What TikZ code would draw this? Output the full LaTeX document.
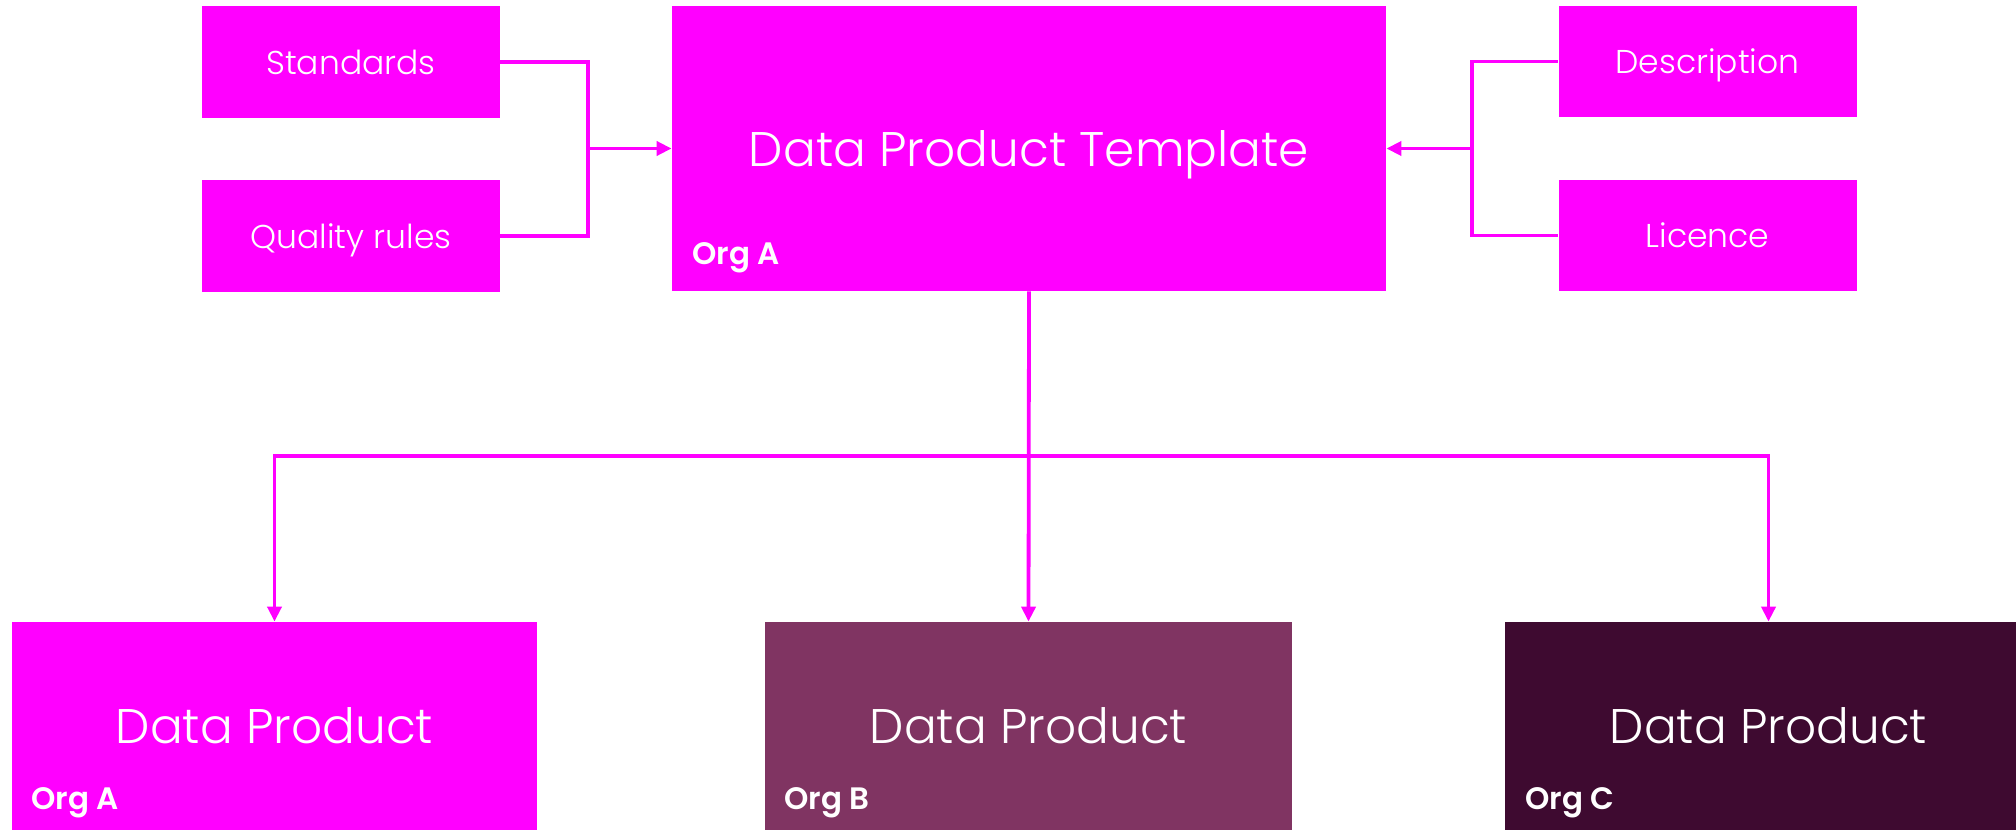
\documentclass[tikz,border=0pt]{standalone}
\usepackage{fontspec}
\newfontfamily\poplight{Poppins Light}
\newfontfamily\popsemi{Poppins SemiBold}
\usetikzlibrary{arrows.meta}
\definecolor{mag}{HTML}{FF00FF}
\definecolor{plumB}{HTML}{803462}
\definecolor{plumC}{HTML}{3E0A30}
\tikzset{
  box/.style={rectangle, inner sep=0pt, text depth=0pt, text=white, font=\poplight\fontsize{16.5pt}{18pt}\selectfont},
  smallbox/.style={box, fill=mag, minimum width=149pt, minimum height=56pt},
  bigtitle/.style={font=\poplight\fontsize{24.3pt}{28pt}\selectfont},
  orglabel/.style={anchor=base west, inner sep=0pt, text=white, font=\popsemi\fontsize{15.5pt}{18pt}\selectfont},
  conn/.style={draw=mag, line width=1.9pt},
  arr/.style={conn, -{Triangle[length=7.5pt,width=7pt]}},
}
\begin{document}
\begin{tikzpicture}[x=0.5pt,y=-0.5pt]
\useasboundingbox (0,0) rectangle (2016,830);
% top row
\node[smallbox] (std) at (351,62) {Standards};
\node[smallbox] (qr) at (351,236) {Quality rules};
\node[box, bigtitle, fill=mag, minimum width=357pt, minimum height=142.5pt] (tpl) at (1029,148.5) {Data Product Template};
\node[orglabel] (tplorg) at (692,264) {Org A};
\node[smallbox, minimum height=55.5pt] (desc) at (1707.5,61.5) {Description};
\node[smallbox, minimum height=55.5pt] (lic) at (1707.5,235.5) {Licence};
% bottom row
\node[box, bigtitle, fill=mag, minimum width=262.5pt, minimum height=104pt] (dpa) at (274.5,726) {Data Product};
\node[box, bigtitle, fill=plumB, minimum width=263.5pt, minimum height=104pt] (dpb) at (1028.5,726) {Data Product};
\node[box, bigtitle, fill=plumC, minimum width=263.5pt, minimum height=104pt] (dpc) at (1768.5,726) {Data Product};
\node[orglabel] (orga) at (31,809) {Org A};
\node[orglabel] (orgb) at (784,809) {Org B};
\node[orglabel] (orgc) at (1525,809) {Org C};
% left connectors
\coordinate (jl) at (588,148.5);
\draw[conn] (std.east) -| (jl);
\draw[conn] (qr.east) -| (jl);
\draw[arr] (jl) -- (tpl.west);
% right connectors
\coordinate (jr) at (1472,148.5);
\draw[conn] (desc.west) -| (jr);
\draw[conn] (lic.west) -| (jr);
\draw[arr] (jr) -- (tpl.east);
% bottom bus
\coordinate (bus) at (1029,456);
\draw[arr] (tpl.south) -- (dpb.north);
\draw[arr] (bus) -| (dpa.north);
\draw[arr] (bus) -| (dpc.north);
\end{tikzpicture}
\end{document}
